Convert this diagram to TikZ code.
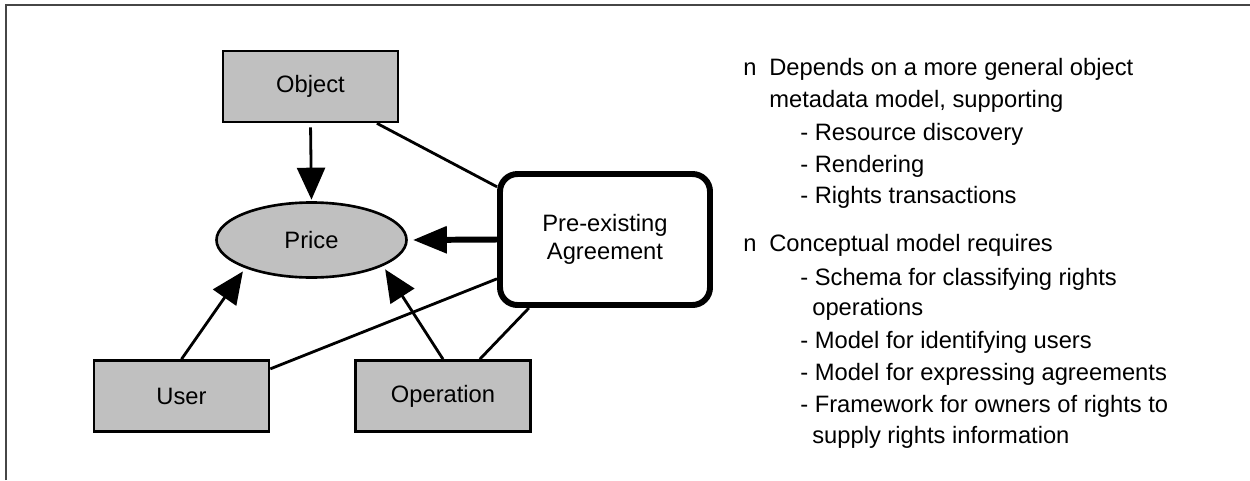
\documentclass[tikz,border=0pt]{standalone}
\usepackage{fontspec}
\setmainfont{Liberation Sans}
\usepackage{xcolor}
\definecolor{box-gray}{RGB}{192,192,192}
\definecolor{frame-gray}{RGB}{70,70,70}
\usepackage{tikz}
\usetikzlibrary{shapes.geometric,arrows.meta}
\tikzset{
	entity/.style={draw,fill=box-gray,line width=1.5pt,minimum width=3.5cm,
		minimum height=1.42cm,inner sep=0pt},
	link/.style={line width=1.6pt},
	feed/.style={line width=1.6pt,-{Triangle[length=6.4mm,width=5.6mm]}},
	noteline/.style={anchor=base west,inner sep=0pt},
}

\begin{document}
\begin{tikzpicture}[font=\fontsize{13.5}{16}\selectfont]
	\useasboundingbox (0,0) rectangle (25,9.6);
	\draw[frame-gray,line width=0.6pt] (0.12,0)--(0.12,9.5)--(25,9.5);
	
	\node[entity] (object) at (6.21,7.87) {Object};
	\node[ellipse,draw,fill=box-gray,line width=1.5pt,minimum width=3.8cm,
		minimum height=1.5cm,inner sep=0pt] (price) at (6.23,4.8) {Price};
	\node[draw,rounded corners=0.35cm,line width=3.4pt,minimum width=4.2cm,
		minimum height=2.62cm,align=center] (agree) at (12.1,4.81)
		{Pre-existing\\Agreement};
	\node[entity] (user) at (3.63,1.68) {User};
	\node[entity] (operation) at (8.86,1.68) {Operation};
	
	\draw[feed,shorten <=0.08cm,shorten >=0.03cm] (object.south)--(price.north);
	\draw[feed,shorten >=0.08cm] (user.north)--(price.203);
	\draw[feed,shorten >=0.08cm] (operation.north)--(price.340);
	\draw[line width=3.4pt,-{Triangle[length=6.8mm,width=5.2mm]},
		shorten >=0.1cm] (agree.west)--(price.east);
	
	\draw[link] (object.331)--(agree.154);
	\draw[link] (user.17)--(agree.200);
	\draw[link] (operation.45)--(agree.222);
	
	\foreach \x/\y/\t [count=\i] in {
		14.86/8.1/n, 15.38/8.1/Depends on a more general object,
		15.38/7.46/{metadata model, supporting},
		16/6.8/- Resource discovery, 16/6.16/- Rendering,
		16/5.54/- Rights transactions,
		14.86/4.58/n, 15.38/4.58/Conceptual model requires,
		16/3.9/- Schema for classifying rights, 16.24/3.3/operations,
		16/2.64/- Model for identifying users,
		16/2.0/- Model for expressing agreements,
		16/1.36/- Framework for owners of rights to,
		16.24/0.74/supply rights information} {
		\node[noteline] (note\i) at (\x,\y) {\t};
	}
\end{tikzpicture}
\end{document}
